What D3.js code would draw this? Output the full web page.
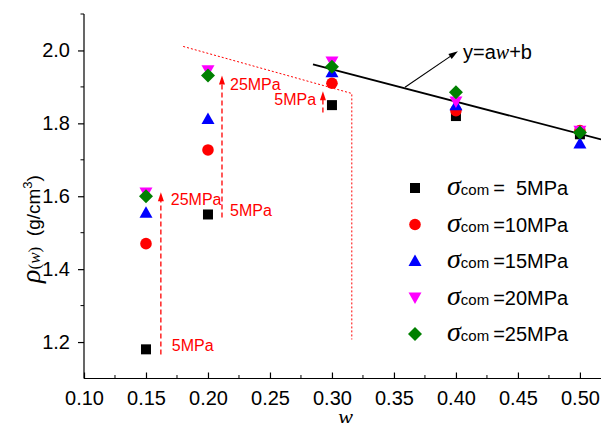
<!DOCTYPE html>
<html><head><meta charset="utf-8">
<script src="https://cdn.jsdelivr.net/npm/d3@7"></script>
<style>body{margin:0;background:#fff}svg{display:block}</style>
</head><body>
<script>
const xValues = [0.15, 0.20, 0.30, 0.40, 0.50];
const seriesNames = ["5MPa", "10MPa", "15MPa", "20MPa", "25MPa"];
const s5  = [1.18, 1.55, 1.85, 1.82, 1.77];
const s10 = [1.47, 1.727, 1.91, 1.835, 1.78];
const s15 = [1.555, 1.812, 1.94, 1.85, 1.745];
const s20 = [1.61, 1.946, 1.97, 1.86, 1.78];
const s25 = [1.60, 1.931, 1.955, 1.885, 1.775];
const xTicks = [0.10, 0.15, 0.20, 0.25, 0.30, 0.35, 0.40, 0.45, 0.50];
const yTicks = [1.2, 1.4, 1.6, 1.8, 2.0];
const fitX = [0.2847, 0.517];
const fitY = [1.9616, 1.756];

const W = 601, H = 423;
const svg = d3.select("body").append("svg").attr("width", W).attr("height", H);
const x = d3.scaleLinear().domain([0.10, 0.517]).range([84, 601]);
const y = d3.scaleLinear().domain([1.1, 2.1]).range([378.5, 14]);

// axes
const xAxis = d3.axisBottom(x).tickValues(xTicks).tickFormat(d3.format(".2f")).tickSize(-6).tickPadding(12);
const gx = svg.append("g").attr("transform", "translate(0,378.5)").call(xAxis);
gx.select(".domain").attr("d", "M84,0H601");
const xMinor = d3.range(0.125, 0.52, 0.05);
gx.selectAll(".minor").data(xMinor).enter().append("line").attr("class","minor")
  .attr("x1", d=>x(d)).attr("x2", d=>x(d)).attr("y1", 0).attr("y2", -3.5).attr("stroke","#000");
const yAxis = d3.axisLeft(y).tickValues(yTicks).tickFormat(d3.format(".1f")).tickSize(6).tickPadding(8);
const gy = svg.append("g").attr("transform", "translate(84,0)").call(yAxis);
gy.select(".domain").attr("d", "M0,14V378.5");
const yMinor = [1.3, 1.5, 1.7, 1.9, 2.1];
gy.selectAll(".minor").data(yMinor).enter().append("line").attr("class","minor")
  .attr("y1", d=>y(d)).attr("y2", d=>y(d)).attr("x1", 0).attr("x2", -3.5).attr("stroke","#000");
svg.selectAll(".tick text").attr("font-family","Liberation Sans, Arial, sans-serif").attr("font-size", 20).attr("fill","#000");
gx.selectAll(".tick text").attr("dy", "0.71em");
svg.selectAll(".domain, .tick line").attr("stroke","#000").attr("stroke-width",1.2);

// axis titles
svg.append("text").attr("x", x(0.311)).attr("y", 424).attr("text-anchor","middle")
  .attr("font-family","Liberation Serif, Times New Roman, serif").attr("font-style","italic").attr("font-size",22).text("w");
const yl = svg.append("text").attr("transform","translate(40,229) rotate(-90)").attr("text-anchor","middle")
  .attr("font-family","Liberation Sans, Arial, sans-serif").attr("font-size",19);
yl.append("tspan").attr("font-family","Liberation Serif, Times New Roman, serif").attr("font-style","italic").attr("font-size",28).text("ρ");
yl.append("tspan").attr("font-family","Liberation Serif, Times New Roman, serif").attr("font-size",17).text("(");
yl.append("tspan").attr("font-family","Liberation Serif, Times New Roman, serif").attr("font-style","italic").attr("font-size",17).text("w");
yl.append("tspan").attr("font-family","Liberation Serif, Times New Roman, serif").attr("font-size",17).text(")");
yl.append("tspan").text("\u00a0\u00a0(g/cm");
yl.append("tspan").attr("font-size",13).attr("dy",-8).text("3");
yl.append("tspan").attr("dy",8).text(")");

// red annotation lines
const red = "#ff0000";
const guide = [[0.18, 2.011], [0.316, 1.882], [0.316, 1.207]];
svg.append("path").attr("d", d3.line().x(d=>x(d[0])).y(d=>y(d[1]))(guide))
  .attr("fill","none").attr("stroke",red).attr("stroke-width",1).attr("stroke-dasharray","2,2");

const arrowX = [0.162, 0.2113, 0.2927];
const arrowFrom = [1.166, 1.542, 1.83];
const arrowTo = [1.611, 1.931, 1.888];
arrowX.forEach((ax, i) => {
  const px = x(ax), y0 = y(arrowFrom[i]), y1 = y(arrowTo[i]);
  svg.append("line").attr("x1",px).attr("x2",px).attr("y1",y0).attr("y2",y1+6)
    .attr("stroke",red).attr("stroke-width",1.3).attr("stroke-dasharray","5,3");
  svg.append("path").attr("d",`M${px},${y1}L${px-3},${y1+9}L${px+3},${y1+9}Z`).attr("fill",red);
});
const annText = ["25MPa", "5MPa", "25MPa", "5MPa", "5MPa"];
const annX = [0.166, 0.1668, 0.2113, 0.2113, 0.2896];
const annY = [1.577, 1.175, 1.892, 1.545, 1.85];
const annDx = [5, 5, 8, 8, -3];
const annAnchor = ["start","start","start","start","end"];
annText.forEach((t,i)=>{
  svg.append("text").attr("x", x(annX[i]) + annDx[i]).attr("y", y(annY[i]))
    .attr("text-anchor", annAnchor[i]).attr("fill", red)
    .attr("font-family","Liberation Sans, Arial, sans-serif").attr("font-size",16).text(t);
});

// fit line
svg.append("line").attr("x1",x(fitX[0])).attr("y1",y(fitY[0])).attr("x2",x(fitX[1])).attr("y2",y(fitY[1]))
  .attr("stroke","#000").attr("stroke-width",1.8);
// arrow to equation
const eqFrom = [0.3589, 1.899], eqTo = [0.4016, 1.998];
{
  const x0 = x(eqFrom[0]), y0 = y(eqFrom[1]), x1 = x(eqTo[0]), y1 = y(eqTo[1]);
  const ang = Math.atan2(y1-y0, x1-x0);
  svg.append("line").attr("x1",x0).attr("y1",y0).attr("x2",x1-7*Math.cos(ang)).attr("y2",y1-7*Math.sin(ang)).attr("stroke","#000").attr("stroke-width",1.1);
  const p = (l, a) => [x1 - l*Math.cos(ang+a), y1 - l*Math.sin(ang+a)];
  const a1 = p(10, 0.3), a2 = p(10, -0.3);
  svg.append("path").attr("d",`M${x1},${y1}L${a1[0]},${a1[1]}L${a2[0]},${a2[1]}Z`).attr("fill","#000");
}
const eq = svg.append("text").attr("x", 463).attr("y", 59).attr("font-family","Liberation Sans, Arial, sans-serif").attr("font-size",20);
eq.append("tspan").text("y=a");
eq.append("tspan").attr("font-family","Liberation Serif, Times New Roman, serif").attr("font-style","italic").text("w");
eq.append("tspan").text("+b");

// markers
const colors = ["#000000", "#ff0000", "#0000ff", "#ff00ff", "#008000"];
const series = [s5, s10, s15, s20, s25];
function marker(g, k, cx, cy) {
  const c = colors[k];
  if (k === 0) g.append("rect").attr("x",cx-5).attr("y",cy-5).attr("width",10).attr("height",10).attr("fill",c);
  else if (k === 1) g.append("circle").attr("cx",cx).attr("cy",cy).attr("r",5.8).attr("fill",c);
  else if (k === 2) g.append("path").attr("d",`M${cx},${cy-6.5}L${cx+6.5},${cy+5}L${cx-6.5},${cy+5}Z`).attr("fill",c);
  else if (k === 3) g.append("path").attr("d",`M${cx},${cy+6.5}L${cx+6.5},${cy-5}L${cx-6.5},${cy-5}Z`).attr("fill",c);
  else g.append("path").attr("d",`M${cx},${cy-7}L${cx+7},${cy}L${cx},${cy+7}L${cx-7},${cy}Z`).attr("fill",c);
}
const gm = svg.append("g");
series.forEach((s,k)=> s.forEach((v,i)=> marker(gm, k, x(xValues[i]), y(v))));

// legend
const lg = svg.append("g");
seriesNames.forEach((n,k)=>{
  const cy = 188 + k*36.5;
  marker(lg, k, 415, cy);
  const t = lg.append("text").attr("x", 447).attr("y", cy+7).attr("font-family","Liberation Sans, Arial, sans-serif").attr("font-size",20);
  t.append("tspan").attr("font-family","Liberation Serif, Times New Roman, serif").attr("font-style","italic").attr("font-size",28).text("σ");
  t.append("tspan").attr("font-size",15).text("com");
  t.append("tspan").attr("dx",4).text(k===0 ? "=\u00a0 5MPa" : "=" + n);
});
</script>
</body></html>
